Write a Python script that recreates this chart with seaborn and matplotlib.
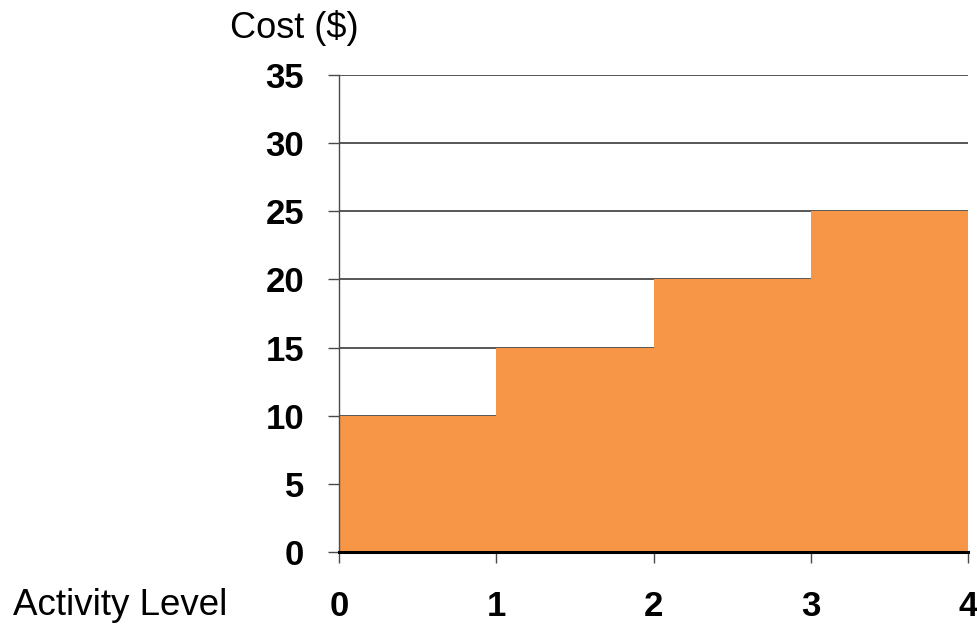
import matplotlib
matplotlib.use("Agg")
import matplotlib.pyplot as plt
import seaborn as sns
import pandas as pd

# Step cost: each activity level band carries a fixed cost
activity_start = [0, 1, 2, 3]
band_edges = [0, 1, 2, 3, 4]
cost = [10, 15, 20, 25]
y_ticks = [0, 5, 10, 15, 20, 25, 30, 35]
x_ticks = [0, 1, 2, 3, 4]

df = pd.DataFrame({"activity": activity_start, "cost": cost})

sns.set_theme(style="white")
plt.rcParams["font.family"] = ["Liberation Sans", "DejaVu Sans"]

fig = plt.figure(figsize=(9.77, 6.24), dpi=100)
ax = fig.add_axes([339 / 977, 72 / 624, 629 / 977, 477 / 624])

sns.histplot(data=df, x="activity", weights="cost", bins=band_edges,
             element="step", fill=True, color="#F79646", alpha=1,
             linewidth=0, ax=ax, zorder=3)

ax.set_xlim(band_edges[0], band_edges[-1])
ax.set_ylim(y_ticks[0], y_ticks[-1])
ax.set_xticks(x_ticks)
ax.set_yticks(y_ticks)
ax.set_xticklabels([str(v) for v in x_ticks])
ax.set_yticklabels([str(v) for v in y_ticks])
ax.set_xlabel("")
ax.set_ylabel("")

ax.set_axisbelow(True)
ax.yaxis.grid(True, color="#4a4a4a", linewidth=1.3)
ax.xaxis.grid(False)

for side in ("top", "right"):
    ax.spines[side].set_visible(False)
ax.spines["left"].set_color("#4a4a4a")
ax.spines["left"].set_linewidth(1.0)
ax.spines["left"].set_zorder(4)
ax.spines["bottom"].set_color("black")
ax.spines["bottom"].set_linewidth(2.2)
ax.spines["bottom"].set_zorder(5)

ax.tick_params(axis="y", which="major", left=True, length=8, width=1.0,
               color="#4a4a4a", pad=17, labelsize=25)
ax.tick_params(axis="x", which="major", bottom=True, length=8, width=1.0,
               color="#4a4a4a", pad=19, labelsize=25)
for lab in ax.get_xticklabels() + ax.get_yticklabels():
    lab.set_fontweight("bold")
    lab.set_color("black")

fig.text(230 / 977, 1 - 38 / 624, "Cost ($)", ha="left", va="baseline",
         fontsize=26, color="black")
fig.text(13 / 977, 1 - 615 / 624, "Activity Level", ha="left", va="baseline",
         fontsize=26.5, color="black")

fig.savefig("out.png", dpi=100)
